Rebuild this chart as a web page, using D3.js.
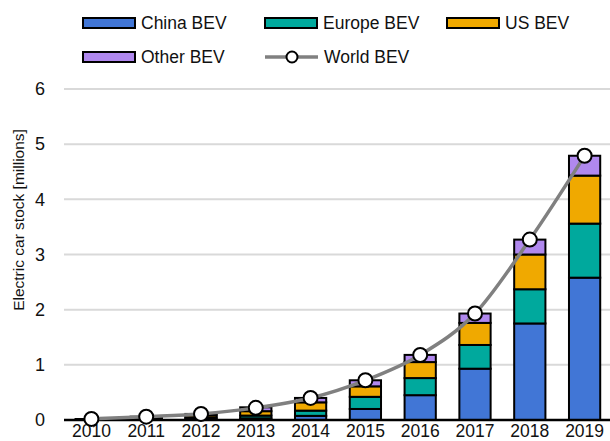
<!DOCTYPE html>
<html>
<head>
<meta charset="utf-8">
<script src="https://cdn.jsdelivr.net/npm/d3@7"></script>
<style>
  body { margin: 0; background: #fff; }
  text { font-family: Arial, "Liberation Sans", sans-serif; fill: #111; }
</style>
</head>
<body>
<div id="chart"></div>
<script>
// values in millions of cars
var years = ['2010','2011','2012','2013','2014','2015','2016','2017','2018','2019']
var china  = [0.005, 0.01, 0.02, 0.03, 0.075, 0.20, 0.45, 0.93, 1.75, 2.58]
var europe = [0.005, 0.02, 0.03, 0.05, 0.095, 0.22, 0.31, 0.43, 0.62, 0.98]
var us     = [0.004, 0.02, 0.04, 0.08, 0.15, 0.19, 0.29, 0.40, 0.63, 0.87]
var other  = [0.003, 0.01, 0.02, 0.07, 0.08, 0.11, 0.13, 0.17, 0.27, 0.36]
var world  = [0.02, 0.06, 0.11, 0.22, 0.40, 0.72, 1.18, 1.93, 3.27, 4.79]
var yTicks = [0, 1, 2, 3, 4, 5, 6]

var seriesNames = ['China BEV', 'Europe BEV', 'US BEV', 'Other BEV']
var colors = ['#4176d6', '#00a99d', '#f0a900', '#b088ee']

var W = 610, H = 441
var svg = d3.select('#chart').append('svg').attr('width', W).attr('height', H)

var x = d3.scaleBand().domain(years).range([64, 612]).paddingInner(0.43).paddingOuter(0.215)
var y = d3.scaleLinear().domain([0, 6]).range([420, 89])

// gridlines
svg.append('g').selectAll('line').data(yTicks.filter(function(d){ return d > 0 }))
  .enter().append('line')
  .attr('x1', 64).attr('x2', W)
  .attr('y1', function(d){ return y(d) }).attr('y2', function(d){ return y(d) })
  .attr('stroke', '#d9d9d9').attr('stroke-width', 2)

// y axis labels
var yAxis = svg.append('g').attr('transform', 'translate(64,0)')
  .call(d3.axisLeft(y).tickValues(yTicks).tickFormat(d3.format('d')).tickSize(0).tickPadding(19))
yAxis.select('.domain').remove()
yAxis.selectAll('text').style('font-size', '18px').attr('fill', '#111')
  .style('font-family', 'Arial, "Liberation Sans", sans-serif')

// stacked bars
var table = years.map(function(yr, i){
  return {year: yr, 'China BEV': china[i], 'Europe BEV': europe[i], 'US BEV': us[i], 'Other BEV': other[i]}
})
var stack = d3.stack().keys(seriesNames)(table)

svg.append('g').selectAll('g').data(stack).enter().append('g')
  .attr('fill', function(d, i){ return colors[i] })
  .selectAll('rect').data(function(d){ return d }).enter().append('rect')
  .attr('x', function(d){ return x(d.data.year) })
  .attr('width', x.bandwidth())
  .attr('y', function(d){ return y(d[1]) })
  .attr('height', function(d){ return y(d[0]) - y(d[1]) })
  .attr('stroke', '#000').attr('stroke-width', 2)

// x axis
svg.append('line').attr('x1', 64).attr('x2', W).attr('y1', y(0)).attr('y2', y(0))
  .attr('stroke', '#000').attr('stroke-width', 2.5)
var xAxis = svg.append('g').attr('transform', 'translate(0,' + y(0) + ')')
  .call(d3.axisBottom(x).tickSize(0).tickPadding(5))
xAxis.select('.domain').remove()
xAxis.selectAll('text').style('font-size', '17.5px').attr('fill', '#111')
  .style('font-family', 'Arial, "Liberation Sans", sans-serif')

// world line
var line = d3.line()
  .x(function(d, i){ return x(years[i]) + x.bandwidth() / 2 })
  .y(function(d){ return y(d) })
  .curve(d3.curveMonotoneX)
svg.append('path').attr('d', line(world))
  .attr('fill', 'none').attr('stroke', '#808080').attr('stroke-width', 3.5)
svg.append('g').selectAll('circle').data(world).enter().append('circle')
  .attr('cx', function(d, i){ return x(years[i]) + x.bandwidth() / 2 })
  .attr('cy', function(d){ return y(d) })
  .attr('r', 7)
  .attr('fill', '#fff').attr('stroke', '#000').attr('stroke-width', 2)

// y title
svg.append('text')
  .attr('transform', 'translate(18,220) rotate(-90)')
  .attr('text-anchor', 'middle').attr('dominant-baseline', 'central')
  .style('font-size', '15.5px')
  .text('Electric car stock [millions]')

// legend
var legendPos = [[83, 23], [265, 23], [447, 23], [83, 57]]
var leg = svg.append('g')
seriesNames.forEach(function(name, i){
  var p = legendPos[i]
  leg.append('rect').attr('x', p[0]).attr('y', p[1] - 5).attr('width', 52).attr('height', 10)
    .attr('fill', colors[i]).attr('stroke', '#000').attr('stroke-width', 2)
  leg.append('text').attr('x', p[0] + 58).attr('y', p[1]).attr('dominant-baseline', 'central')
    .style('font-size', '17.5px').text(name)
})
leg.append('line').attr('x1', 265).attr('x2', 318).attr('y1', 57).attr('y2', 57)
  .attr('stroke', '#808080').attr('stroke-width', 3.5)
leg.append('circle').attr('cx', 292).attr('cy', 57).attr('r', 5.5)
  .attr('fill', '#fff').attr('stroke', '#000').attr('stroke-width', 2)
leg.append('text').attr('x', 324).attr('y', 57).attr('dominant-baseline', 'central')
  .style('font-size', '17.5px').text('World BEV')
</script>
</body>
</html>
